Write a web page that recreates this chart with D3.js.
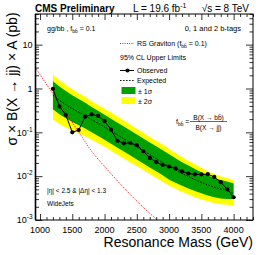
<!DOCTYPE html>
<html>
<head>
<meta charset="utf-8">
<script src="https://cdn.jsdelivr.net/npm/d3@7"></script>
<style>
    body { margin: 0; background: #fff; }
    svg { display: block; }
</style>
</head>
<body>
<div id="wrapper"></div>
<script>
// limits vs resonance mass (GeV), values in pb
const mass = [1200, 1300, 1400, 1500, 1600, 1700, 1800, 1900, 2000, 2100,
    2200, 2300, 2400, 2500, 2600, 2700, 2800, 2900, 3000, 3100,
    3200, 3300, 3400, 3500, 3600, 3700, 3800, 3900, 4000]
const observed = [0.98, 0.39, 0.25, 0.10, 0.113, 0.227, 0.256, 0.238, 0.18, 0.115,
    0.064, 0.056, 0.057, 0.051, 0.037, 0.026, 0.021, 0.018, 0.0166, 0.015,
    0.0128, 0.0115, 0.011, 0.011, 0.0111, 0.0096, 0.0073, 0.0050, 0.0033]
const expected = [0.70, 0.537, 0.427, 0.347, 0.288, 0.240, 0.195, 0.160, 0.132, 0.107,
    0.087, 0.071, 0.058, 0.047, 0.038, 0.031, 0.025, 0.0204, 0.0166, 0.0138,
    0.0115, 0.0098, 0.0083, 0.0072, 0.0063, 0.0056, 0.0051, 0.0049, 0.0040]
const minus2 = [0.197, 0.155, 0.129, 0.110, 0.0955, 0.0813, 0.0676, 0.0562, 0.0468, 0.0380,
    0.0309, 0.0251, 0.0204, 0.0170, 0.0138, 0.0112, 0.00912, 0.00741, 0.00603, 0.00513,
    0.00437, 0.00380, 0.00331, 0.00295, 0.00269, 0.00245, 0.00229, 0.00224, 0.00214]
const minus1 = [0.335, 0.26, 0.209, 0.172, 0.145, 0.122, 0.100, 0.0822, 0.0676, 0.0550,
    0.0447, 0.0363, 0.0295, 0.0240, 0.0195, 0.0158, 0.0129, 0.0105, 0.00832, 0.00708,
    0.00603, 0.00525, 0.00457, 0.00407, 0.00363, 0.00331, 0.00309, 0.00302, 0.00302]
const plus1 = [1.46, 1.11, 0.871, 0.70, 0.575, 0.473, 0.380, 0.309, 0.251, 0.204,
    0.166, 0.135, 0.110, 0.0891, 0.0724, 0.0589, 0.0479, 0.0389, 0.0316, 0.0257,
    0.0209, 0.0174, 0.0145, 0.0123, 0.0105, 0.00912, 0.00813, 0.00759, 0.00676]
const plus2 = [2.07, 1.55, 1.20, 0.955, 0.776, 0.646, 0.513, 0.422, 0.347, 0.282,
    0.229, 0.186, 0.151, 0.120, 0.0977, 0.0794, 0.0646, 0.0525, 0.0417, 0.0339,
    0.0269, 0.0224, 0.0186, 0.0155, 0.0129, 0.0112, 0.00977, 0.00912, 0.00794]

// RS graviton prediction
const gravMass = [900, 1000, 1200, 1400, 1600, 1800, 2000, 2200, 2400, 2600, 2800, 3000]
const gravXsec = [3.44, 2.07, 0.757, 0.277, 0.102, 0.037, 0.0166, 0.0078, 0.0038, 0.00195, 0.00105, 0.00058]

// axis ticks
const xMajorTicks = [1000, 1500, 2000, 2500, 3000, 3500, 4000]
const yDecades = [0.001, 0.01, 0.1, 1, 10]
const yExponents = ["-3", "-2", "-1", "", ""]
const yBaseLabels = ["10", "10", "10", "1", "10"]

const font = "'Liberation Sans', Arial, Helvetica, sans-serif"

let dimensions = {
    width: 266,
    height: 255,
    margin: {
        top: 14,
        right: 13,
        bottom: 35,
        left: 35.5
    }
}
dimensions.boundedWidth = dimensions.width - dimensions.margin.left - dimensions.margin.right
dimensions.boundedHeight = dimensions.height - dimensions.margin.top - dimensions.margin.bottom

const W = dimensions.boundedWidth
const H = dimensions.boundedHeight

const svgRoot = d3.select("#wrapper")
    .append("svg")
    .attr("width", dimensions.width)
    .attr("height", dimensions.height)
    .style("font-family", font)

const svg = svgRoot.append("g")
    .attr("transform", `translate(${dimensions.margin.left},${dimensions.margin.top})`)

const x = d3.scaleLinear().domain([930, 4300]).range([0, W])
const y = d3.scaleLog().domain([0.001, 50]).range([H, 0])

svg.append("clipPath").attr("id", "clip")
    .append("rect").attr("width", W).attr("height", H)

const rows = mass.map((m, i) => ({
    m: m, obs: observed[i], exp: expected[i],
    lo2: minus2[i], lo1: minus1[i], hi1: plus1[i], hi2: plus2[i]
}))

//bands
svg.append("path")
    .datum(rows)
    .attr("fill", "#ffff00")
    .attr("d", d3.area().x(d => x(d.m)).y0(d => y(d.lo2)).y1(d => y(d.hi2)))

svg.append("path")
    .datum(rows)
    .attr("fill", "#00a000")
    .attr("d", d3.area().x(d => x(d.m)).y0(d => y(d.lo1)).y1(d => y(d.hi1)))

//expected
svg.append("path")
    .datum(rows)
    .attr("fill", "none")
    .attr("stroke", "black")
    .attr("stroke-width", 0.9)
    .attr("stroke-dasharray", "1.6,1.4")
    .attr("d", d3.line().x(d => x(d.m)).y(d => y(d.exp)))

//graviton
const grav = gravMass.map((m, i) => ({ m: m, v: gravXsec[i] }))
svg.append("path")
    .datum(grav)
    .attr("clip-path", "url(#clip)")
    .attr("fill", "none")
    .attr("stroke", "#ff0000")
    .attr("stroke-width", 1)
    .attr("stroke-dasharray", "1,1.3")
    .attr("d", d3.line().curve(d3.curveMonotoneX).x(d => x(d.m)).y(d => y(d.v)))

//observed
svg.append("path")
    .datum(rows)
    .attr("fill", "none")
    .attr("stroke", "black")
    .attr("stroke-width", 1)
    .attr("d", d3.line().x(d => x(d.m)).y(d => y(d.obs)))

svg.selectAll("circle.obs")
    .data(rows)
    .enter()
    .append("circle")
    .attr("class", "obs")
    .attr("cx", d => x(d.m))
    .attr("cy", d => y(d.obs))
    .attr("r", 2.1)
    .attr("fill", "black")

//ticks (ROOT style, inward on all four sides)
const xMinor = d3.range(1000, 4301, 100).filter(v => v % 500 !== 0)
const yMinor = []
yDecades.forEach(d => { for (let k = 2; k <= 9; k++) if (d * k <= 50) yMinor.push(d * k) })

function tickAxis(axis, values, size, transform) {
    const g = svg.append("g")
        .attr("transform", transform)
        .call(axis.tickValues(values).tickSize(size).tickSizeOuter(0).tickFormat(""))
    g.select(".domain").remove()
    g.selectAll("line").attr("stroke", "black").attr("stroke-width", 0.8)
    return g
}
tickAxis(d3.axisBottom(x), xMinor, -3, `translate(0,${H})`)
tickAxis(d3.axisBottom(x), xMajorTicks, -6, `translate(0,${H})`)
tickAxis(d3.axisTop(x), xMinor, -3, "translate(0,0)")
tickAxis(d3.axisTop(x), xMajorTicks, -6, "translate(0,0)")
tickAxis(d3.axisLeft(y), yMinor, -3.5, "translate(0,0)")
tickAxis(d3.axisLeft(y), yDecades, -7, "translate(0,0)")
tickAxis(d3.axisRight(y), yMinor, -3.5, `translate(${W},0)`)
tickAxis(d3.axisRight(y), yDecades, -7, `translate(${W},0)`)

//frame
svg.append("rect")
    .attr("width", W)
    .attr("height", H)
    .attr("fill", "none")
    .attr("stroke", "black")
    .attr("stroke-width", 1)
svg.append("line")
    .attr("x1", 0).attr("x2", 0).attr("y1", 0).attr("y2", H)
    .attr("stroke", "black").attr("stroke-width", 1.6)

//x tick labels
svg.append("g")
    .selectAll("text")
    .data(xMajorTicks)
    .enter()
    .append("text")
    .attr("x", d => x(d))
    .attr("y", H + 12.5)
    .attr("text-anchor", "middle")
    .attr("font-size", "9px")
    .text(d => d)

//y tick labels
const yl = svg.append("g")
    .selectAll("text")
    .data(yDecades)
    .enter()
    .append("text")
    .attr("x", -3)
    .attr("y", d => y(d) + 3.2)
    .attr("text-anchor", "end")
    .attr("font-size", "9px")
yl.append("tspan").text((d, i) => yBaseLabels[i])
yl.append("tspan")
    .attr("dy", -4)
    .attr("font-size", "6.5px")
    .text((d, i) => yExponents[i])

//axis titles
svgRoot.append("text")
    .attr("x", 253)
    .attr("y", 247)
    .attr("text-anchor", "end")
    .attr("font-size", "14px")
    .text("Resonance Mass (GeV)")

svgRoot.append("text")
    .attr("transform", "translate(17,79) rotate(-90)")
    .attr("text-anchor", "middle")
    .attr("font-size", "14px")
    .text("σ × B(X → jj) × A (pb)")

//header
svgRoot.append("text")
    .attr("x", 35).attr("y", 12)
    .attr("font-size", "10px").attr("font-weight", "bold")
    .text("CMS Preliminary")

const lumi = svgRoot.append("text")
    .attr("x", 133).attr("y", 12)
    .attr("font-size", "10px")
lumi.append("tspan").text("L = 19.6 fb")
lumi.append("tspan").attr("dy", -4).attr("font-size", "7px").text("-1")

svgRoot.append("text")
    .attr("x", 249).attr("y", 12)
    .attr("text-anchor", "end")
    .attr("font-size", "10px")
    .text("√s = 8 TeV")

//labels inside the frame
function subText(xp, yp, size, parts, anchor) {
    const t = svgRoot.append("text")
        .attr("x", xp).attr("y", yp)
        .attr("font-size", size + "px")
        .attr("text-anchor", anchor || "start")
    parts.forEach(p => {
        const s = t.append("tspan").text(p.t)
        if (p.sub) s.attr("dy", 2.2).attr("font-size", (size * 0.7) + "px")
        if (p.back) s.attr("dy", -2.2)
    })
    return t
}

subText(47, 30.5, 7, [{ t: "gg/bb , f" }, { t: "bb\u0304", sub: true }, { t: " = 0.1", back: true }])

svgRoot.append("text")
    .attr("x", 241).attr("y", 31)
    .attr("text-anchor", "end")
    .attr("font-size", "7.5px")
    .text("0, 1 and 2 b-tags")

//legend
svgRoot.append("line")
    .attr("x1", 120).attr("x2", 134).attr("y1", 43.5).attr("y2", 43.5)
    .attr("stroke", "#ff0000").attr("stroke-width", 1).attr("stroke-dasharray", "1,1.3")
subText(137, 46, 7, [{ t: "RS Graviton (f" }, { t: "bb\u0304", sub: true }, { t: " = 0.1)", back: true }])

svgRoot.append("text")
    .attr("x", 120).attr("y", 60)
    .attr("font-size", "7px")
    .text("95% CL Upper Limits")

svgRoot.append("line")
    .attr("x1", 120).attr("x2", 134).attr("y1", 70.5).attr("y2", 70.5)
    .attr("stroke", "black").attr("stroke-width", 1)
svgRoot.append("circle")
    .attr("cx", 127.5).attr("cy", 70.5).attr("r", 2.1).attr("fill", "black")
svgRoot.append("text")
    .attr("x", 137).attr("y", 73)
    .attr("font-size", "7px")
    .text("Observed")

svgRoot.append("line")
    .attr("x1", 120).attr("x2", 134).attr("y1", 80.5).attr("y2", 80.5)
    .attr("stroke", "black").attr("stroke-width", 0.9).attr("stroke-dasharray", "1.6,1.4")
svgRoot.append("text")
    .attr("x", 137).attr("y", 83)
    .attr("font-size", "7px")
    .text("Expected")

svgRoot.append("rect")
    .attr("x", 121.5).attr("y", 87).attr("width", 14).attr("height", 7)
    .attr("fill", "#00a000")
svgRoot.append("text")
    .attr("x", 138).attr("y", 93.5)
    .attr("font-size", "7px")
    .text("± 1σ")

svgRoot.append("rect")
    .attr("x", 121.5).attr("y", 97).attr("width", 14).attr("height", 7)
    .attr("fill", "#ffff00")
svgRoot.append("text")
    .attr("x", 138).attr("y", 103.5)
    .attr("font-size", "7px")
    .text("± 2σ")

//f_bb definition
subText(176, 123.5, 7, [{ t: "f" }, { t: "bb\u0304", sub: true }, { t: " =", back: true }])
svgRoot.append("line")
    .attr("x1", 190).attr("x2", 227).attr("y1", 121.5).attr("y2", 121.5)
    .attr("stroke", "black").attr("stroke-width", 0.6)
svgRoot.append("text")
    .attr("x", 208.5).attr("y", 119.5)
    .attr("text-anchor", "middle").attr("font-size", "6.5px")
    .text("B(X → bb\u0304)")
svgRoot.append("text")
    .attr("x", 208.5).attr("y", 129.5)
    .attr("text-anchor", "middle").attr("font-size", "6.5px")
    .text("B(X → jj)")

svgRoot.append("text")
    .attr("x", 47).attr("y", 192.5)
    .attr("font-size", "6.5px")
    .text("|η| < 2.5 & |Δη| < 1.3")

svgRoot.append("text")
    .attr("x", 47).attr("y", 205.5)
    .attr("font-size", "6.5px")
    .text("WideJets")
</script>
</body>
</html>
